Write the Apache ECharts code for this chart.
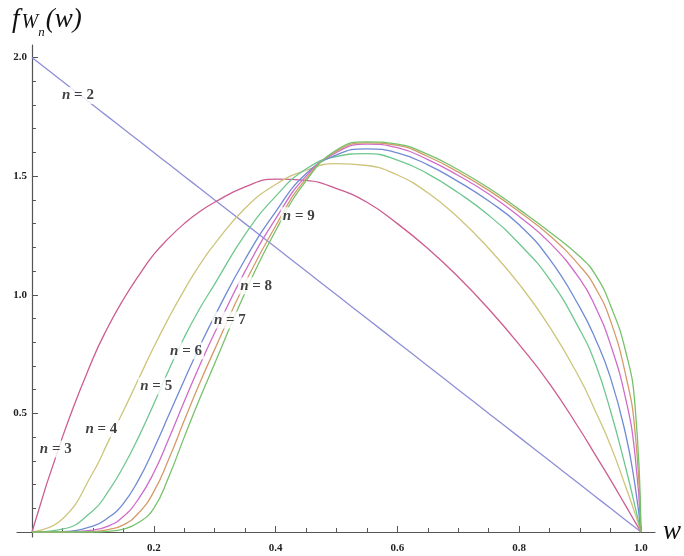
<!DOCTYPE html>
<html><head><meta charset="utf-8">
<script src="https://cdn.jsdelivr.net/npm/echarts@6/dist/echarts.min.js"></script>
<style>html,body{margin:0;padding:0;background:#fff}#c{width:684px;height:556px}</style>
</head><body><div id="c"></div>
<script>
const W  = [0,0.05,0.1,0.125,0.15,0.175,0.2,0.225,0.25,0.275,0.3,0.35,0.4,0.45,0.5,0.55,0.6,0.65,0.7,0.75,0.8,0.85,0.9,0.925,0.95,0.975,0.99,1];
const n2 = [2,1.9,1.8,1.75,1.7,1.65,1.6,1.55,1.5,1.45,1.4,1.3,1.2,1.1,1.0,0.9,0.8,0.7,0.6,0.5,0.4,0.3,0.2,0.15,0.1,0.05,0.02,0];
const n3 = [0,0.40,0.73,0.865,0.98,1.08,1.17,1.24,1.30,1.35,1.39,1.455,1.488,1.482,1.448,1.39,1.30,1.195,1.075,0.94,0.79,0.625,0.43,0.325,0.22,0.11,0.044,0];
const n4 = [0,0.055,0.25,0.38,0.51,0.645,0.78,0.905,1.02,1.125,1.215,1.365,1.465,1.525,1.553,1.545,1.505,1.43,1.325,1.195,1.045,0.865,0.645,0.51,0.365,0.19,0.08,0];
const n5 = [0,0.012,0.09,0.17,0.275,0.40,0.54,0.685,0.82,0.94,1.045,1.255,1.415,1.53,1.583,1.595,1.568,1.51,1.43,1.335,1.215,1.065,0.85,0.71,0.51,0.27,0.11,0];
const n6 = [0,0.002,0.025,0.06,0.12,0.22,0.35,0.495,0.64,0.78,0.91,1.15,1.35,1.51,1.59,1.615,1.598,1.548,1.477,1.395,1.295,1.15,0.945,0.815,0.65,0.41,0.2,0];
const n7 = [0,0,0.008,0.025,0.065,0.14,0.25,0.395,0.55,0.70,0.84,1.10,1.32,1.50,1.60,1.635,1.62,1.57,1.503,1.425,1.33,1.22,1.065,0.95,0.79,0.56,0.33,0];
const n8 = [0,0,0.002,0.01,0.03,0.08,0.17,0.31,0.47,0.625,0.77,1.05,1.29,1.49,1.605,1.64,1.63,1.583,1.517,1.44,1.35,1.25,1.12,1.03,0.89,0.66,0.43,0];
const n9 = [0,0,0,0.003,0.012,0.04,0.10,0.235,0.40,0.56,0.71,1.01,1.27,1.48,1.61,1.645,1.635,1.592,1.527,1.45,1.36,1.265,1.16,1.085,0.955,0.76,0.54,0];
const seriesNames = ['n = 2','n = 3','n = 4','n = 5','n = 6','n = 7','n = 8','n = 9'];
const seriesValues = [n2,n3,n4,n5,n6,n7,n8,n9];
const colors = ['#8f8fd8','#cc5c91','#cfc47c','#6fc78f','#6f8bd3','#cf6ccb','#d69a6a','#76c26a'];
const labelPos = [[0.0755,1.84],[0.039,0.35],[0.114,0.435],[0.204,0.616],[0.253,0.764],[0.325,0.894],[0.368,1.038],[0.438,1.333]];
const xTickLabels = [0.2,0.4,0.6,0.8,1.0];
const yTickLabels = [0.5,1.0,1.5,2.0];
const xMinor = [0.05,0.1,0.15,0.25,0.3,0.35,0.45,0.5,0.55,0.65,0.7,0.75,0.85,0.9,0.95];
const yMinor = [0.1,0.2,0.3,0.4,0.6,0.7,0.8,0.9,1.1,1.2,1.3,1.4,1.6,1.7,1.8,1.9];

const chart = echarts.init(document.getElementById('c'));
const axisColor = '#555';
const lblStyle = {fontFamily:'Liberation Serif', fontSize:11, fontWeight:'bold', color:'#222'};
const xMin = -0.0246, xMax = 1.023, yMin = -0.021, yMax = 2.053;

const series = seriesValues.map((vals,i)=>({
  type:'line', name:seriesNames[i], xAxisIndex:0, yAxisIndex:0,
  data: W.map((w,j)=>[w, vals[j]]),
  showSymbol:false, smooth:0.5, lineStyle:{color:colors[i], width:1.3}, itemStyle:{color:colors[i]},
  z:2, silent:true
}));
series.push({
  type:'scatter', xAxisIndex:0, yAxisIndex:0, symbolSize:0, z:10, silent:true,
  data: labelPos.map((p,i)=>({value:p, name:seriesNames[i]})),
  label:{show:true, position:'inside', backgroundColor:'#fff', padding:[1,2],
    formatter:(p)=>'{i|n}{t|'+p.name.slice(1)+'}',
    rich:{i:{fontFamily:'Liberation Serif', fontStyle:'italic', fontWeight:'bold', fontSize:15, color:'#111'},
          t:{fontFamily:'Liberation Serif', fontWeight:'bold', fontSize:15, color:'#111'}}}
});

chart.setOption({
  animation:false,
  backgroundColor:'#fff',
  title:{left:7, top:1, text:'{f|f}{W|W}{s|n}{p|(w)}',
    textStyle:{fontWeight:'normal', rich:{
      f:{fontFamily:'Liberation Serif', fontStyle:'italic', fontWeight:'normal', fontSize:27, color:'#111'},
      W:{fontFamily:'Liberation Serif', fontStyle:'italic', fontWeight:'normal', fontSize:20, color:'#111', verticalAlign:'bottom', padding:[0,0,0,2]},
      s:{fontFamily:'Liberation Serif', fontStyle:'italic', fontWeight:'normal', fontSize:13, color:'#111', verticalAlign:'bottom', padding:[0,1,-6,0]},
      p:{fontFamily:'Liberation Serif', fontStyle:'italic', fontWeight:'normal', fontSize:27, color:'#111'}
    }}},
  grid:{left:17, right:29, top:45, bottom:19, containLabel:false, outerBoundsMode:'none'},
  xAxis:[{
    type:'value', min:xMin, max:xMax,
    name:'w', nameLocation:'end', nameGap:8,
    nameTextStyle:{fontFamily:'Liberation Serif', fontStyle:'italic', fontSize:27, color:'#111', verticalAlign:'middle', padding:[0,0,4,0]},
    axisLine:{show:true, onZero:true, lineStyle:{color:axisColor, width:1.2}},
    axisTick:{show:true, inside:true, length:6, customValues:xTickLabels, lineStyle:{color:axisColor}},
    axisLabel:{show:true, customValues:xTickLabels, formatter:(v)=>v.toFixed(1), margin:6, ...lblStyle},
    splitLine:{show:false}
  },{
    type:'value', min:xMin, max:xMax, position:'bottom',
    axisLine:{show:false, onZero:true, onZeroAxisIndex:0},
    axisTick:{show:true, inside:true, length:4, customValues:xMinor, lineStyle:{color:axisColor}},
    axisLabel:{show:false}, splitLine:{show:false}
  }],
  yAxis:[{
    type:'value', min:yMin, max:yMax,
    axisLine:{show:true, onZero:true, lineStyle:{color:axisColor, width:1.2}},
    axisTick:{show:true, inside:true, length:6, customValues:yTickLabels, lineStyle:{color:axisColor}},
    axisLabel:{show:true, customValues:yTickLabels, formatter:(v)=>v.toFixed(1), margin:-10, ...lblStyle},
    splitLine:{show:false}
  },{
    type:'value', min:yMin, max:yMax, position:'left',
    axisLine:{show:false, onZero:true, onZeroAxisIndex:0},
    axisTick:{show:true, inside:true, length:4, customValues:yMinor, lineStyle:{color:axisColor}},
    axisLabel:{show:false}, splitLine:{show:false}
  }],
  series: series
});
</script></body></html>
